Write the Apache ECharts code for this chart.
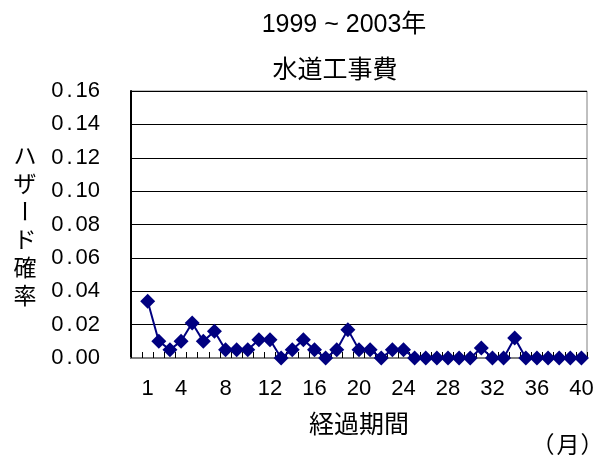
<!DOCTYPE html>
<html>
<head>
<meta charset="utf-8">
<script src="https://cdn.jsdelivr.net/npm/echarts@6/dist/echarts.min.js"></script>
<style>html,body{margin:0;padding:0;background:#fff;}#c{width:601px;height:455px;}</style>
</head>
<body>
<div id="c"></div>
<script>
const titleLine1 = '1999 ~ 2003年';
const titleLine2 = '水道工事費';
const yName = ['ハ', 'ザ', 'ー', 'ド', '確', '率'];
const xName = '経過期間';
const unitParts = ['（', '月', '）'];
const months = ['1','2','3','4','5','6','7','8','9','10','11','12','13','14','15','16','17','18','19','20',
                '21','22','23','24','25','26','27','28','29','30','31','32','33','34','35','36','37','38','39','40'];
const hazard = [0.034, 0.010, 0.005, 0.010, 0.021, 0.010, 0.016, 0.005, 0.005, 0.005,
                0.011, 0.011, 0.000, 0.005, 0.011, 0.005, 0.000, 0.005, 0.017, 0.005,
                0.005, 0.000, 0.005, 0.005, 0.000, 0.000, 0.000, 0.000, 0.000, 0.000,
                0.006, 0.000, 0.000, 0.012, 0.000, 0.000, 0.000, 0.000, 0.000, 0.000];
const shownLabels = ['1','4','8','12','16','20','24','28','32','36','40'];
const yMin = 0, yMax = 0.16, yStep = 0.02;

const FONT = "'Liberation Sans', Arial, 'Noto Sans CJK JP', sans-serif";
const CJK = "'Noto Sans CJK JP', 'Liberation Sans', sans-serif";

const categories = [''].concat(months);
const seriesData = [null].concat(hazard);

const chart = echarts.init(document.getElementById('c'), null, {renderer: 'canvas'});

function txt(x, y, text, font, rot) {
  return {
    type: 'text', x: x, y: y, rotation: rot || 0, z: 100,
    style: {text: text, font: font, fill: '#000', align: 'center', verticalAlign: 'middle', textAlign: 'center', textVerticalAlign: 'middle'}
  };
}

const graphics = [
  txt(344, 25, titleLine1, '25px ' + FONT),
  txt(335, 68, titleLine2, '25px ' + CJK),
  txt(543, 444, unitParts[0], '23px ' + CJK),
  txt(568, 444, unitParts[1], '23px ' + CJK),
  txt(592, 444, unitParts[2], '23px ' + CJK)
];
yName.forEach(function (ch, i) {
  graphics.push(txt(25, 155 + i * 28, ch, '23px ' + CJK, ch === 'ー' ? Math.PI / 2 : 0));
});

chart.setOption({
  animation: false,
  backgroundColor: '#fff',
  grid: {left: 131, right: 14, top: 91, bottom: 97, show: true, borderColor: '#808080', borderWidth: 1},
  xAxis: {
    type: 'category',
    data: categories,
    boundaryGap: true,
    name: xName,
    nameLocation: 'middle',
    nameGap: 53,
    nameTextStyle: {fontFamily: CJK, fontSize: 25, color: '#000'},
    axisLine: {lineStyle: {color: '#808080', width: 2}},
    axisTick: {show: true, inside: true, length: 6, interval: 0, alignWithLabel: false, lineStyle: {color: '#000', width: 1}},
    axisLabel: {
      interval: function (idx, val) { return shownLabels.indexOf(val) >= 0; },
      fontFamily: FONT, fontSize: 22, color: '#000', margin: 20
    },
    splitLine: {show: false},
    z: 3
  },
  yAxis: {
    type: 'value',
    min: yMin, max: yMax, interval: yStep,
    axisLine: {show: true, lineStyle: {color: '#000', width: 2}},
    axisTick: {show: false},
    splitLine: {show: true, lineStyle: {color: '#000', width: 1}},
    axisLabel: {
      margin: 31,
      formatter: function (v) {
        const s = v.toFixed(2).split('.');
        return '{d|' + s[0] + '}{p|.}{d|' + s[1] + '}';
      },
      rich: {
        d: {fontFamily: FONT, fontSize: 22, color: '#000'},
        p: {fontFamily: FONT, fontSize: 22, color: '#000', padding: [0, 3, 0, 3]}
      }
    }
  },
  series: [{
    type: 'line',
    data: seriesData,
    symbol: 'diamond',
    symbolSize: 15,
    showAllSymbol: true,
    color: '#000080',
    lineStyle: {color: '#000080', width: 2},
    itemStyle: {color: '#000080'},
    z: 5
  }],
  graphic: graphics
});
</script>
</body>
</html>
